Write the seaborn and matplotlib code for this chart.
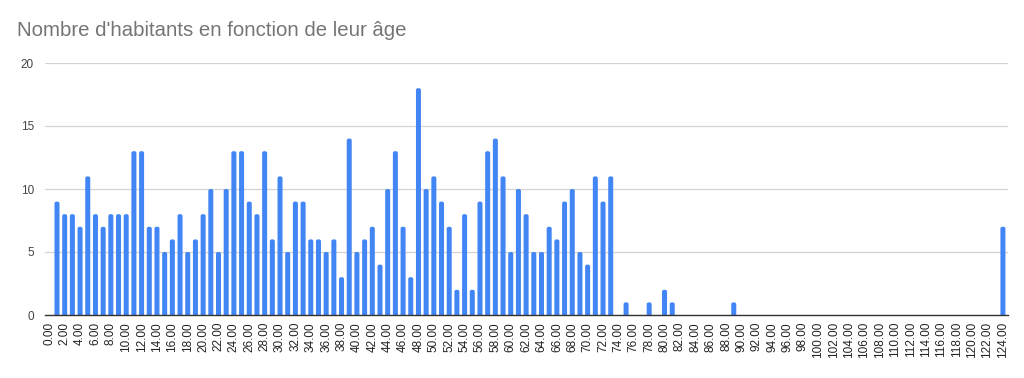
import matplotlib
matplotlib.use('Agg')
import matplotlib.pyplot as plt
from matplotlib.patches import FancyBboxPatch
import seaborn as sns
import pandas as pd

# ages with at least one inhabitant, and how many
ages = list(range(1, 74)) + [75, 78, 80, 81, 89, 124]
counts = [9, 8, 8, 7, 11, 8, 7, 8, 8, 8,
          13, 13, 7, 7, 5, 6, 8, 5, 6, 8,
          10, 5, 10, 13, 13, 9, 8, 13, 6, 11,
          5, 9, 9, 6, 6, 5, 6, 3, 14, 5,
          6, 7, 4, 10, 13, 7, 3, 18, 10, 11,
          9, 7, 2, 8, 2, 9, 13, 14, 11, 5,
          10, 8, 5, 5, 7, 6, 9, 10, 5, 4,
          11, 9, 11,
          1, 1, 2, 1, 1, 7]
x_ticks = list(range(0, 125, 2))
x_labels = [f"{t:.2f}" for t in x_ticks]
y_ticks = [0, 5, 10, 15, 20]

BLUE = '#4285F4'

df = pd.DataFrame({'age': ages, 'habitants': counts})

sns.set_style('white')
plt.rcParams['font.family'] = ['Liberation Sans', 'DejaVu Sans']

fig = plt.figure(figsize=(10.24, 3.78), dpi=100)
ax = fig.add_axes([45 / 1024, 63 / 378, 963 / 1024, 252 / 378])

sns.barplot(data=df, x='age', y='habitants', native_scale=True,
            color=BLUE, saturation=1, width=0.65, errorbar=None,
            linewidth=0, ax=ax)

# google-style rounded tops (bottom corners pushed below the axis and clipped)
for p in list(ax.patches):
    x0, w, h = p.get_x(), p.get_width(), p.get_height()
    p.remove()
    ax.add_patch(FancyBboxPatch((x0, -1), w, h + 1,
                                boxstyle='round,pad=0,rounding_size=0.25',
                                mutation_aspect=0.6, fc=BLUE, ec='none',
                                zorder=2))

ax.set_xlim(-0.56, 124.66)
ax.set_ylim(0, 20)
ax.set_xticks(x_ticks)
ax.set_xticklabels(x_labels, rotation=90, fontsize=8.5, color='#222222')
ax.set_yticks(y_ticks)
ax.set_yticklabels([str(v) for v in y_ticks], fontsize=8.5, color='#444444')
ax.tick_params(axis='x', length=0, pad=5)
ax.tick_params(axis='y', length=0, pad=8)
ax.set_xlabel('')
ax.set_ylabel('')

ax.yaxis.grid(True, color='#d3d3d3', lw=0.9)
ax.set_axisbelow(True)
for side in ['top', 'right', 'left']:
    ax.spines[side].set_visible(False)
ax.spines['bottom'].set_color('#333333')
ax.spines['bottom'].set_linewidth(1)
ax.spines['bottom'].set_zorder(3)

fig.text(17 / 1024, 1 - 36 / 378, "Nombre d'habitants en fonction de leur âge",
         fontsize=14.7, color='#757575', ha='left', va='baseline')

fig.savefig('out.png', dpi=100)
